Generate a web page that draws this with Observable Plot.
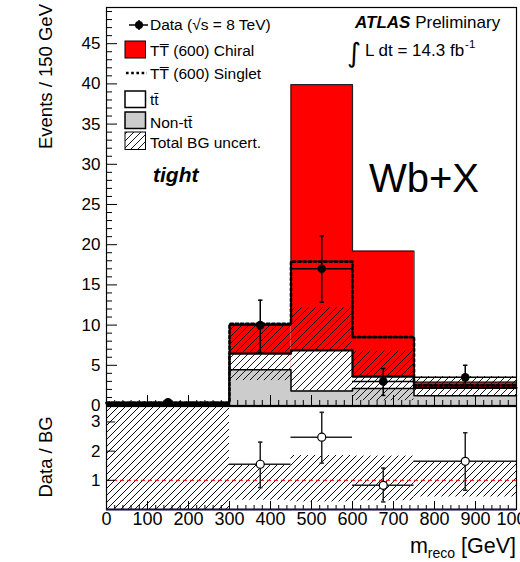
<!DOCTYPE html>
<html><head><meta charset="utf-8">
<script src="https://cdn.jsdelivr.net/npm/d3@7"></script>
<script src="https://cdn.jsdelivr.net/npm/@observablehq/plot@0.6"></script>
<style>
body{margin:0;background:#fff;}
#chart{position:relative;width:520px;height:562px;overflow:hidden;background:#fff;}
#chart svg{display:block;}
#chart svg.upper{position:relative;z-index:2;overflow:visible;}
#chart svg.lower{position:relative;z-index:1;}
</style>
</head><body>
<svg width="0" height="0" style="position:absolute">
  <defs>
    <pattern id="hatchU" patternUnits="userSpaceOnUse" width="7" height="7">
      <path d="M-1,1 l2,-2 M0,7 l7,-7 M6,8 l2,-2" stroke="#000" stroke-width="0.9"/>
    </pattern>
    <pattern id="hatchL" patternUnits="userSpaceOnUse" width="7" height="7">
      <path d="M-1,1 l2,-2 M0,7 l7,-7 M6,8 l2,-2" stroke="#000" stroke-width="0.95"/>
    </pattern>
  </defs>
</svg>
<div id="chart"></div>
<script>
// ---- data ----
const binLo = [0, 300, 450, 600, 750];
const binHi = [300, 450, 600, 750, 1000];
const nonTTbar = [0.1, 4.45, 1.8, 2.1, 1.2];
const bgTotal = [0.3, 6.45, 6.85, 3.6, 2.2];
const chiral = [0.35, 10.05, 39.9, 19.2, 2.9];
const singlet = [0.35, 10.15, 17.9, 8.5, 2.5];
const bgUncLow = [0.0, 3.1, 1.8, 0.6, 1.25];
const bgUncHigh = [0.45, 9.95, 12.15, 6.75, 3.6];
const dataX = [150, 375, 525, 675, 875];
const dataY = [0.4, 10, 17, 3, 3.5];
const dataLow = [0.4, 6.6, 12.85, 1.25, 2.3];
const dataHigh = [0.4, 13.1, 21.1, 4.6, 5.0];
const ratioBin = [1, 2, 3, 4];
const ratioY = [1.55, 2.48, 0.83, 1.65];
const ratioLow = [0.75, 1.59, 0.26, 0.66];
const ratioHigh = [2.31, 3.33, 1.42, 2.63];
const ratioUncLow = [0, 0.32, 0.26, 0.3, 0.43];
const ratioUncHigh = [3.53, 1.52, 1.85, 1.83, 1.65];
const yTicks = [0, 5, 10, 15, 20, 25, 30, 35, 40, 45];
const ratioTicks = [1, 2, 3];
const xTickLabels = [0, 100, 200, 300, 400, 500, 600, 700, 800, 900, 1000];

const FONT = "'Liberation Sans', Arial, Helvetica, sans-serif";

const bins = binLo.map((lo, i) => ({
  lo, hi: binHi[i], nonTT: nonTTbar[i], bg: bgTotal[i], chiral: chiral[i],
  singlet: singlet[i], uLo: bgUncLow[i], uHi: bgUncHigh[i],
  rLo: ratioUncLow[i], rHi: ratioUncHigh[i]
}));
const step = (vals) => binLo.map((lo, i) => ({x: lo, y: vals[i]}))
  .concat([{x: binHi[binHi.length - 1], y: vals[vals.length - 1]}]);
const data = dataX.map((x, i) => ({x, y: dataY[i], lo: dataLow[i], hi: dataHigh[i], b0: binLo[i], b1: binHi[i]}));
const ratio = ratioBin.map((b, i) => ({x: dataX[b], y: ratioY[i], lo: ratioLow[i], hi: ratioHigh[i], b0: binLo[b], b1: binHi[b]}));
const dataBars = data.filter(d => d.hi > d.lo);

const capSym = {draw(ctx, size) { const w = Math.sqrt(size / Math.PI); ctx.moveTo(-w, 0); ctx.lineTo(w, 0); }};

const minorX = d3.range(0, 1001, 20).filter(v => v % 100 !== 0);
const majorX = d3.range(0, 1001, 100);
const minorY = d3.range(0, 50, 1).filter(v => v % 5 !== 0);

const W = 520, ML = 106, MR = 4;
const FW = W - ML - MR;

const upperH = 406, uMT = 7, uMB = 1, uFH = upperH - uMT - uMB;
const upper = Plot.plot({
  width: W, height: upperH, marginTop: uMT, marginBottom: uMB, marginLeft: ML, marginRight: MR,
  className: "upper",
  x: {domain: [0, 1000], axis: null},
  y: {domain: [0, 49.5], axis: null},
  style: {fontFamily: FONT, fontSize: "17px", background: "white", color: "black"},
  marks: [
    Plot.rectY(bins, {x1: "lo", x2: "hi", y: "chiral", fill: "#ff0000"}),
    Plot.line(step(chiral), {x: "x", y: "y", curve: "step-after", stroke: "#222", strokeWidth: 1.2}),
    Plot.rectY(bins, {x1: "lo", x2: "hi", y: "bg", fill: "white"}),
    Plot.line(step(bgTotal), {x: "x", y: "y", curve: "step-after", stroke: "black", strokeWidth: 2.2}),
    Plot.rectY(bins, {x1: "lo", x2: "hi", y: "nonTT", fill: "#cccccc"}),
    Plot.line(step(nonTTbar), {x: "x", y: "y", curve: "step-after", stroke: "black", strokeWidth: 1.5}),
    Plot.rect(bins, {x1: "lo", x2: "hi", y1: "uLo", y2: "uHi", fill: "url(#hatchU)"}),
    Plot.line(step(singlet), {x: "x", y: "y", curve: "step-after", stroke: "black", strokeWidth: 2.6, strokeDasharray: "2.6,2.6"}),
    Plot.tickY(minorY, {y: d => d, insetRight: FW - 6, stroke: "black"}),
    Plot.tickY(yTicks, {y: d => d, insetRight: FW - 11, stroke: "black"}),
    Plot.tickX(minorX, {x: d => d, insetTop: uFH - 5, stroke: "black"}),
    Plot.tickX(majorX, {x: d => d, insetTop: uFH - 10, stroke: "black"}),
    Plot.ruleX(dataBars, {x: "x", y1: "lo", y2: "hi", stroke: "black", strokeWidth: 1.5}),
    Plot.ruleY(data, {y: "y", x1: "b0", x2: "b1", stroke: "black", strokeWidth: 1.5}),
    Plot.dot(dataBars, {x: "x", y: "hi", symbol: capSym, r: 2.2, stroke: "black", strokeWidth: 1.5, fill: "none"}),
    Plot.dot(dataBars, {x: "x", y: "lo", symbol: capSym, r: 2.2, stroke: "black", strokeWidth: 1.5, fill: "none"}),
    Plot.dot(data, {x: "x", y: "y", r: 4.3, fill: "black", stroke: "none"}),
    Plot.frame({stroke: "black", strokeWidth: 1.2}),
    Plot.axisY(yTicks, {anchor: "left", tickSize: 0, tickPadding: 6, fontSize: 17, tickFormat: d => String(d)})
  ]
});

const lowerH = 156, lMT = 0, lMB = 53, lFH = lowerH - lMT - lMB;
const lower = Plot.plot({
  width: W, height: lowerH, marginTop: lMT, marginBottom: lMB, marginLeft: ML, marginRight: MR,
  className: "lower",
  x: {domain: [0, 1000], axis: null},
  y: {domain: [0, 3.53], axis: null},
  style: {fontFamily: FONT, fontSize: "17px", background: "white", color: "black"},
  marks: [
    Plot.rect(bins, {x1: "lo", x2: "hi", y1: "rLo", y2: "rHi", fill: "url(#hatchL)"}),
    Plot.ruleY([1], {stroke: "#ff0000", strokeWidth: 1, strokeDasharray: "4,3"}),
    Plot.tickY(ratioTicks, {y: d => d, insetRight: FW - 9, stroke: "black"}),
    Plot.tickX(minorX, {x: d => d, insetTop: lFH - 4, stroke: "black"}),
    Plot.tickX(majorX, {x: d => d, insetTop: lFH - 8, stroke: "black"}),
    Plot.ruleX(ratio, {x: "x", y1: "lo", y2: "hi", stroke: "#222", strokeWidth: 1.5}),
    Plot.ruleY(ratio, {y: "y", x1: "b0", x2: "b1", stroke: "#222", strokeWidth: 1.5}),
    Plot.dot(ratio, {x: "x", y: "hi", symbol: capSym, r: 2.2, stroke: "#222", strokeWidth: 1.5, fill: "none"}),
    Plot.dot(ratio, {x: "x", y: "lo", symbol: capSym, r: 2.2, stroke: "#222", strokeWidth: 1.5, fill: "none"}),
    Plot.dot(ratio, {x: "x", y: "y", r: 4, fill: "white", stroke: "black", strokeWidth: 1.2}),
    Plot.frame({stroke: "black", strokeWidth: 1.2}),
    Plot.ruleY([0], {stroke: "#16163f", strokeWidth: 2.2}),
    Plot.axisY(ratioTicks, {anchor: "left", tickSize: 0, tickPadding: 6, fontSize: 17, tickFormat: d => String(d)}),
    Plot.axisX(xTickLabels, {anchor: "bottom", tickSize: 0, tickPadding: 3, fontSize: 18, tickFormat: d => String(d)})
  ]
});

const chart = document.getElementById("chart");
chart.appendChild(upper);
chart.appendChild(lower);

// ---- annotations & legend (upper panel) ----
const su = d3.select(upper).append("g").attr("font-family", FONT).attr("fill", "black").attr("text-anchor", "start");

su.append("text").attr("transform", "translate(52,4) rotate(-90)")
  .attr("text-anchor", "end").attr("font-size", 18.5).text("Events / 150 GeV");

const atlas = su.append("text").attr("x", 355).attr("y", 28).attr("font-size", 17);
atlas.append("tspan").attr("font-weight", "bold").attr("font-style", "italic").text("ATLAS");
atlas.append("tspan").text(" Preliminary");

su.append("text").attr("x", 347).attr("y", 62).attr("font-size", 27).attr("font-family", "'DejaVu Sans', sans-serif").text("∫");
const lumi = su.append("text").attr("x", 365).attr("y", 56).attr("font-size", 17);
lumi.append("tspan").text("L dt = 14.3 fb");
lumi.append("tspan").attr("font-size", 11.5).attr("dy", -8).attr("dx", 1).text("-1");

su.append("text").attr("x", 153).attr("y", 182).attr("font-size", 21)
  .attr("font-weight", "bold").attr("font-style", "italic").text("tight");
su.append("text").attr("x", 369).attr("y", 192).attr("font-size", 40).text("Wb+X");

// legend
const lg = su.append("g");
const LX = 150, LFS = 15.5;
lg.append("line").attr("x1", 129).attr("x2", 148).attr("y1", 25).attr("y2", 25).attr("stroke", "black").attr("stroke-width", 1.5);
lg.append("line").attr("x1", 139).attr("x2", 139).attr("y1", 20).attr("y2", 30).attr("stroke", "black").attr("stroke-width", 1.5);
lg.append("circle").attr("cx", 139).attr("cy", 25).attr("r", 4).attr("fill", "black");
lg.append("text").attr("x", LX).attr("y", 30).attr("font-size", LFS).text("Data (√s = 8 TeV)");
lg.append("rect").attr("x", 125).attr("y", 41).attr("width", 20.5).attr("height", 17).attr("fill", "#ff0000").attr("stroke", "black").attr("stroke-width", 1);
lg.append("text").attr("x", LX).attr("y", 56).attr("font-size", LFS).text("TT\u0305 (600) Chiral");
lg.append("line").attr("x1", 126).attr("x2", 147).attr("y1", 73).attr("y2", 73).attr("stroke", "black").attr("stroke-width", 2.6).attr("stroke-dasharray", "2.6,2.6");
lg.append("text").attr("x", LX).attr("y", 78.5).attr("font-size", LFS).text("TT\u0305 (600) Singlet");
lg.append("rect").attr("x", 125).attr("y", 91).attr("width", 20.5).attr("height", 16.5).attr("fill", "white").attr("stroke", "black").attr("stroke-width", 1.5);
lg.append("text").attr("x", LX).attr("y", 105).attr("font-size", LFS).text("tt\u0304");
lg.append("rect").attr("x", 125).attr("y", 112).attr("width", 20.5).attr("height", 16.5).attr("fill", "#cccccc").attr("stroke", "black").attr("stroke-width", 1.5);
lg.append("text").attr("x", LX).attr("y", 128).attr("font-size", LFS).text("Non-tt\u0304");
lg.append("rect").attr("x", 125).attr("y", 132).attr("width", 20.5).attr("height", 17.5).attr("fill", "url(#hatchU)").attr("stroke", "black").attr("stroke-width", 1);
lg.append("text").attr("x", LX).attr("y", 148).attr("font-size", LFS).text("Total BG uncert.");

// ---- lower panel titles ----
const sl = d3.select(lower).append("g").attr("font-family", FONT).attr("fill", "black").attr("text-anchor", "start");
sl.append("text").attr("transform", "translate(52,51) rotate(-90)")
  .attr("text-anchor", "middle").attr("font-size", 18.5).text("Data / BG");
const xl = sl.append("text").attr("x", 516).attr("y", 147).attr("text-anchor", "end").attr("font-size", 21.5);
xl.append("tspan").text("m");
xl.append("tspan").attr("font-size", 14).attr("dy", 5).text("reco");
xl.append("tspan").attr("dy", -5).text(" [GeV]");
</script>
</body></html>
